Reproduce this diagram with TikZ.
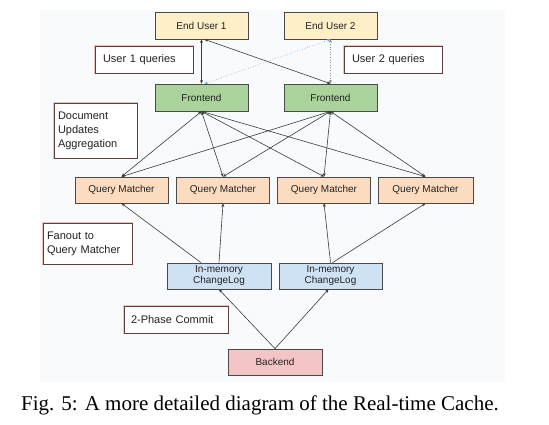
\documentclass[tikz,border=0pt]{standalone}
\usepackage{fontspec}
\setmainfont{Liberation Serif}
\newfontfamily\boxfont{Liberation Sans}
\usetikzlibrary{arrows.meta}
\definecolor{bgc}{HTML}{F9FAFC}
\definecolor{euc}{HTML}{FFEFC8}
\definecolor{fec}{HTML}{A9D39A}
\definecolor{qmc}{HTML}{FCDCC0}
\definecolor{clc}{HTML}{CFE2F3}
\definecolor{bec}{HTML}{F4C4C6}
\definecolor{edgec}{HTML}{4A4A4A}
\definecolor{notec}{HTML}{5E3E3A}
\definecolor{haloc}{HTML}{EBC4BC}
\definecolor{linec}{HTML}{3A3A3A}
\definecolor{dotc}{HTML}{6FA8DC}
\definecolor{txtc}{HTML}{222222}
\tikzset{
  mainbox/.style={draw=edgec, line width=0.7pt, minimum height=27pt, inner sep=0pt,
    font=\boxfont\fontsize{10}{12}\selectfont, text=txtc, align=center},
  notebox/.style={draw=notec, line width=0.5pt, fill=white, inner sep=0pt,
    font=\boxfont\fontsize{11}{14}\selectfont, text=txtc, align=left,
    preaction={draw=haloc, line width=1.4pt}},
  conn/.style={draw=linec, line width=0.6pt},
  tip/.style={-{Stealth[length=3.5pt,width=3pt]}},
  tips/.style={{Stealth[length=3.5pt,width=3pt]}-{Stealth[length=3.5pt,width=3pt]}},
}
\begin{document}
\begin{tikzpicture}[x=1pt,y=-1pt]
\useasboundingbox (0,0) rectangle (549,425);
\fill[bgc] (40,10) rectangle (505,382);
% top row
\node[mainbox, fill=euc, minimum width=93pt] (eu1) at (201.5,25.5) {End User 1};
\node[mainbox, fill=euc, minimum width=93pt] (eu2) at (330.5,25.5) {End User 2};
\node[notebox, minimum width=98pt, minimum height=27pt, text width=82pt] (uq1) at (144,59.5) {User 1 queries};
\node[notebox, minimum width=98pt, minimum height=27pt, text width=82pt] (uq2) at (393,59.5) {User 2 queries};
\node[mainbox, fill=fec, minimum width=93pt] (fe1) at (201.5,97.5) {Frontend};
\node[mainbox, fill=fec, minimum width=93pt] (fe2) at (330.5,97.5) {Frontend};
% notes
\node[notebox, minimum width=83pt, minimum height=55pt, text width=75pt] (dua) at (95.5,130.5) {Document\\Updates\\Aggregation};
\node[notebox, minimum width=89pt, minimum height=41pt, text width=81pt] (fan) at (87.5,243.5) {Fanout to\\Query Matcher};
\node[notebox, minimum width=104pt, minimum height=27pt, text width=90pt] (tpc) at (176,319.5) {2-Phase Commit};
% query matchers
\node[mainbox, fill=qmc, minimum width=93pt, minimum height=26pt] (qm1) at (121.5,190) {Query Matcher};
\node[mainbox, fill=qmc, minimum width=93pt, minimum height=26pt] (qm2) at (223,190) {Query Matcher};
\node[mainbox, fill=qmc, minimum width=93pt, minimum height=26pt] (qm3) at (324,190) {Query Matcher};
\node[mainbox, fill=qmc, minimum width=95pt, minimum height=26pt] (qm4) at (425.5,190) {Query Matcher};
% changelogs
\node[mainbox, fill=clc, minimum width=104pt, minimum height=26pt, font=\boxfont\fontsize{10}{11}\selectfont] (cl1) at (219,276) {In-memory\\ChangeLog};
\node[mainbox, fill=clc, minimum width=103pt, minimum height=26pt, font=\boxfont\fontsize{10}{11}\selectfont] (cl2) at (330.5,276) {In-memory\\ChangeLog};
% backend
\node[mainbox, fill=bec, minimum width=94pt, minimum height=26pt] (be) at (275,362) {Backend};
% top connectors
\draw[conn, tips] (eu1.south) -- (fe1.north);
\draw[conn, tips] ([xshift=3pt]eu1.south) -- (fe2.north);
\draw[dotc, line width=0.6pt, dotted, tips] ([xshift=3pt]fe1.north) -- (eu2.south);
\draw[linec!60, line width=0.6pt, dotted, tips] (eu2.south) -- (fe2.north);
% frontend to query matchers
\foreach \f in {fe1,fe2}{
  \foreach \q in {qm1,qm2,qm3,qm4}{
    \draw[conn, tips] (\f.south) -- (\q.north);
  }
}
% changelogs to query matchers
\draw[conn, tip] ([xshift=-18pt]cl1.north) -- (qm1.south);
\draw[conn, tip] (cl1.north) -- (qm2.south);
\draw[conn, tip] (cl2.north) -- (qm3.south);
\draw[conn, tip] ([xshift=2pt]cl2.north) -- (qm4.south);
% backend to changelogs
\draw[conn, tip] (be.north) -- (cl1.south);
\draw[conn, tip] (be.north) -- ([xshift=-2pt]cl2.south);
% caption
\node[font=\fontsize{21}{24}\selectfont, text=black] (cap) at (260,405) {Fig. 5: A more detailed diagram of the Real-time Cache.};
\end{tikzpicture}
\end{document}
